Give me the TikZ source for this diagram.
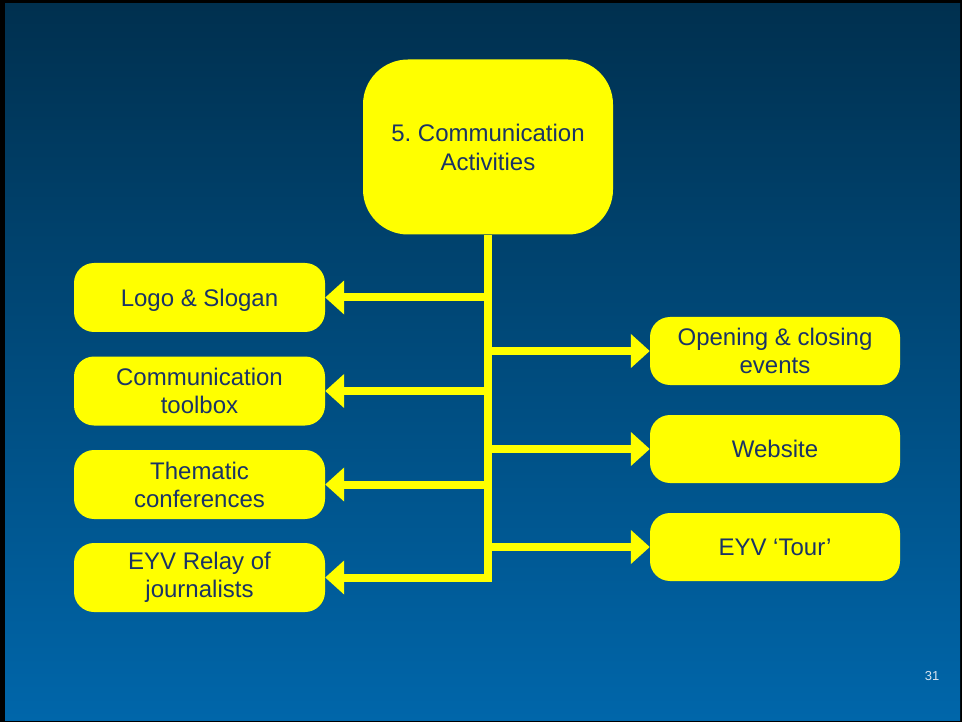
\documentclass[tikz,border=0pt]{standalone}
\usepackage{fontspec}
\setmainfont{Liberation Sans}
\usetikzlibrary{arrows.meta}
\definecolor{txt}{HTML}{1A3366}
\definecolor{bgtop}{HTML}{00304F}
\definecolor{bgbot}{HTML}{0066AA}
\definecolor{ylw}{HTML}{FFFF00}
\definecolor{pgnum}{HTML}{D8E4F0}
\frenchspacing
\begin{document}
\begin{tikzpicture}[x=1pt,y=-1pt,
  box/.style={draw=none, fill=ylw, rounded corners=20pt, minimum width=251pt,
    minimum height=69pt, align=center, font=\fontsize{24}{28}\selectfont,
    text=txt, inner sep=0pt},
  conn/.style={draw=ylw, line width=8pt, line join=miter,
    -{Triangle[length=19pt,width=33pt]}}]
\fill[black] (0,0) rectangle (962,722);
\shade[top color=bgtop, bottom color=bgbot] (5,4) rectangle (960,720);
\useasboundingbox (0,0) rectangle (962,722);

\node[box, rounded corners=45pt, minimum width=250pt, minimum height=175pt,
  font=\fontsize{24}{29}\selectfont] (top) at (488,147) {5. Communication\\Activities};

\node[box, text depth=0pt] (logo)  at (199.5,297.5) {Logo \& Slogan};
\node[box] (tool)  at (199.5,391) {Communication\\toolbox};
\node[box] (conf)  at (199.5,484.5) {Thematic\\conferences};
\node[box] (relay) at (199.5,577.5) {EYV Relay of\\journalists};

\node[box, minimum width=250pt, minimum height=68pt] (open) at (775,351) {Opening \& closing\\events};
\node[box, minimum width=250pt, minimum height=68pt] (web)  at (775,449) {Website};
\node[box, minimum width=250pt, minimum height=68pt] (tour) at (775,547) {EYV ‘Tour’};

\draw[conn] (top.south) |- (relay.east);
\draw[conn] (top.south |- logo.east) -- (logo.east);
\draw[conn] (top.south |- tool.east) -- (tool.east);
\draw[conn] (top.south |- conf.east) -- (conf.east);
\draw[conn] (top.south |- open.west) -- (open.west);
\draw[conn] (top.south |- web.west) -- (web.west);
\draw[conn] (top.south |- tour.west) -- (tour.west);

\node[text=pgnum, font=\fontsize{13}{15}\selectfont] (pg) at (932,676) {31};
\end{tikzpicture}
\end{document}
